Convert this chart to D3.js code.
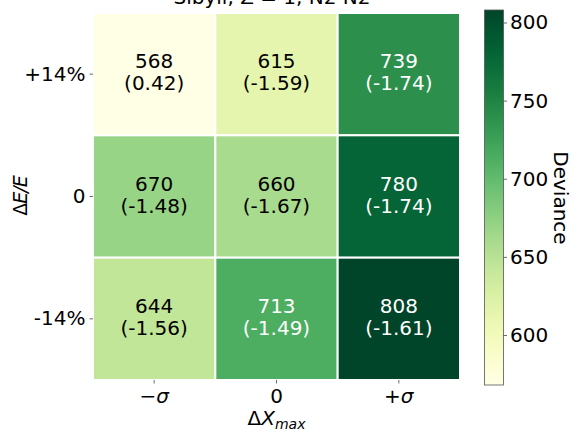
<!DOCTYPE html>
<html><head><meta charset="utf-8">
<script src="https://cdn.jsdelivr.net/npm/d3@7"></script>
<style>body{margin:0;background:#fff}svg{display:block;font-family:"DejaVu Sans",sans-serif}</style>
</head><body>
<svg id="c" width="578" height="433"></svg>
<script>
const xLabels = ["−σ", "0", "+σ"];
const yLabels = ["+14%", "0", "-14%"];
const deviance = [
  [568, 615, 739],
  [670, 660, 780],
  [644, 713, 808]
];
const secondary = [
  ["0.42", "-1.59", "-1.74"],
  ["-1.48", "-1.67", "-1.74"],
  ["-1.56", "-1.49", "-1.61"]
];
const cbTicks = [600, 650, 700, 750, 800];
const vmin = 568, vmax = 808;

const svg = d3.select("#c");
const L = 93, T = 13, S = 367;
const FS = 20;
const x = d3.scaleBand().domain(d3.range(3)).range([L, L + S]);
const y = d3.scaleBand().domain(d3.range(3)).range([T, T + S]);
const color = d3.scaleSequential(d3.interpolateYlGn).domain([vmin, vmax]);

// title (clipped at top edge as in the reference)
svg.append("text").attr("x", 272).attr("y", 4).attr("text-anchor", "middle")
  .attr("font-size", FS).text("Sibyll, Z = 1, N2 N2");

const cells = [];
deviance.forEach((row, i) => row.forEach((v, j) => cells.push({i, j, v, s: secondary[i][j]})));

svg.append("g").selectAll("rect").data(cells).join("rect")
  .attr("x", d => x(d.j)).attr("y", d => y(d.i))
  .attr("width", x.bandwidth()).attr("height", y.bandwidth())
  .attr("fill", d => color(d.v)).attr("stroke", "#fff").attr("stroke-width", 2);

const tg = svg.append("g").attr("font-size", FS).attr("text-anchor", "middle");
cells.forEach(d => {
  const cx = x(d.j) + x.bandwidth() / 2, cy = y(d.i) + y.bandwidth() / 2;
  const fill = d.v > 700 ? "#fff" : "#000";
  tg.append("text").attr("x", cx).attr("y", cy - 6).attr("fill", fill).text(d.v);
  tg.append("text").attr("x", cx).attr("y", cy + 16).attr("fill", fill).text("(" + d.s + ")");
});

// axes
const xAxis = d3.axisBottom(d3.scaleBand().domain(xLabels).range([L, L + S])).tickSize(3.5).tickPadding(4);
const gx = svg.append("g").attr("transform", `translate(0,${T + S})`).call(xAxis);
gx.select(".domain").remove();
gx.selectAll("text").attr("font-size", FS).attr("fill", "#000").attr("font-family", "DejaVu Sans")
  .attr("dy", "15.5px").attr("font-style", d => d === "0" ? "normal" : "italic");
gx.selectAll("line").attr("stroke", "#444").attr("stroke-width", 0.8);

const yAxis = d3.axisLeft(d3.scaleBand().domain(yLabels).range([T, T + S])).tickSize(3.5).tickPadding(4);
const gy = svg.append("g").attr("transform", `translate(${L},0)`).call(yAxis);
gy.select(".domain").remove();
gy.selectAll("text").attr("font-size", FS).attr("fill", "#000").attr("font-family", "DejaVu Sans");
gy.selectAll("line").attr("stroke", "#444").attr("stroke-width", 0.8);

// axis labels
const xl = svg.append("text").attr("x", L + S / 2).attr("y", 425).attr("text-anchor", "middle").attr("font-size", FS);
xl.append("tspan").text("Δ");
xl.append("tspan").attr("font-style", "italic").text("X");
xl.append("tspan").attr("font-style", "italic").attr("font-size", 14).attr("dy", 4).text("max");

const yl = svg.append("text").attr("transform", `translate(27,196) rotate(-90)`).attr("text-anchor", "middle")
  .attr("font-size", 19).attr("letter-spacing", -1);
yl.append("tspan").text("Δ");
yl.append("tspan").attr("font-style", "italic").text("E/E");

// colorbar
const cbX = 484.5, cbW = 19, cbT = 10, cbB = 385;
const cy = d3.scaleLinear().domain([vmin, vmax]).range([cbB, cbT]);
const defs = svg.append("defs");
const grad = defs.append("linearGradient").attr("id", "cbg").attr("x1", 0).attr("y1", 1).attr("x2", 0).attr("y2", 0);
d3.range(0, 1.0001, 0.05).forEach(t => grad.append("stop").attr("offset", t).attr("stop-color", color(vmin + t * (vmax - vmin))));
svg.append("rect").attr("x", cbX).attr("y", cbT).attr("width", cbW).attr("height", cbB - cbT)
  .attr("fill", "url(#cbg)").attr("stroke", "#555").attr("stroke-width", 0.8);
const gc = svg.append("g").attr("transform", `translate(${cbX + cbW},0)`)
  .call(d3.axisRight(cy).tickValues(cbTicks).tickSize(3.5).tickPadding(3));
gc.select(".domain").remove();
gc.selectAll("text").attr("font-size", FS).attr("fill", "#000").attr("font-family", "DejaVu Sans");
gc.selectAll("line").attr("stroke", "#444").attr("stroke-width", 0.8);
svg.append("text").attr("transform", `translate(554,198) rotate(90)`).attr("text-anchor", "middle")
  .attr("font-size", FS).text("Deviance");
</script>
</body></html>
